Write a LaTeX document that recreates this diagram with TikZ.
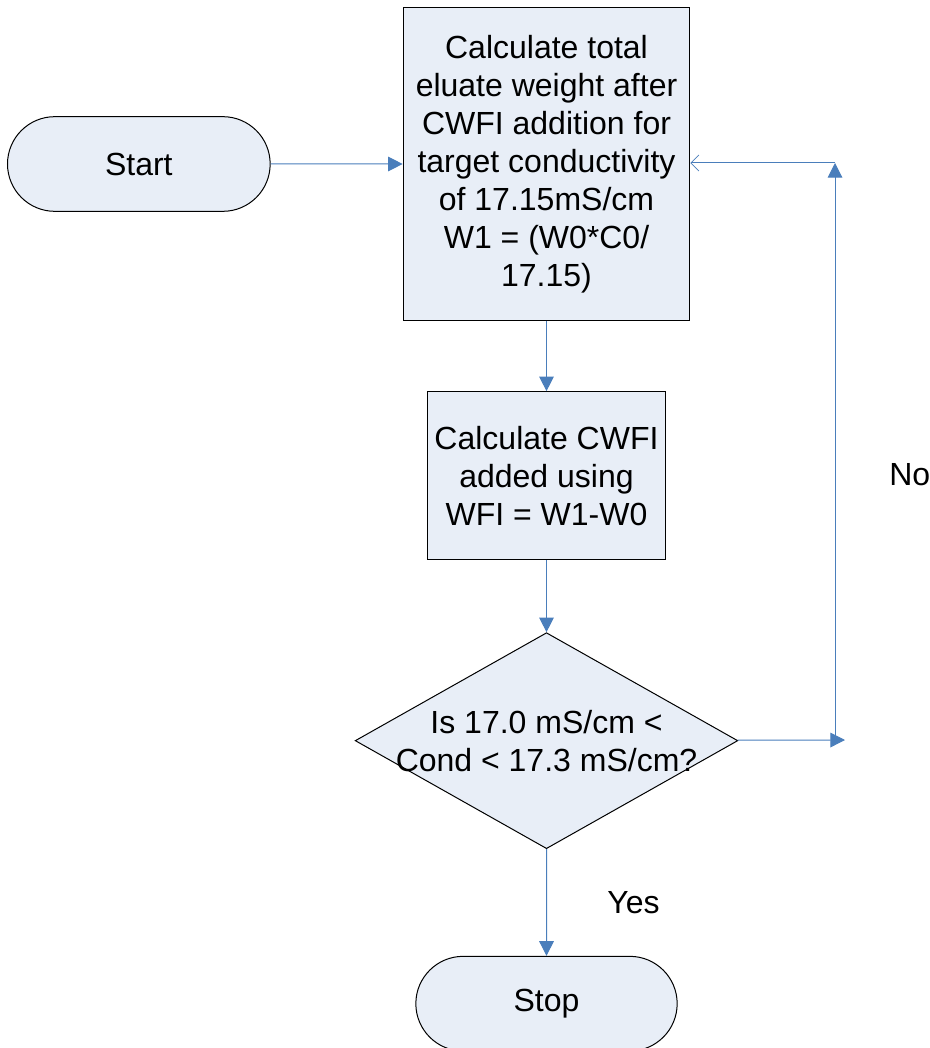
\documentclass[tikz,border=0pt]{standalone}
\usepackage{fontspec}
\setmainfont{Liberation Sans}
\usetikzlibrary{arrows.meta, positioning, shapes.geometric, shapes.misc}
\definecolor{boxfill}{RGB}{232,238,247}
\definecolor{flowline}{RGB}{74,126,187}

\begin{document}
\begin{tikzpicture}[x=0.75pt,y=-0.75pt,
    font=\fontsize{24}{28.5}\selectfont,
    every node/.style={align=center},
    proc/.style={draw,fill=boxfill,line width=0.75pt,inner sep=0pt},
    term/.style={proc,rounded rectangle,minimum width=197pt,minimum height=71pt},
    flow/.style={flowline,line width=0.75pt,-{Triangle[length=11pt,width=11pt]}},
    back/.style={flowline,line width=0.75pt,-{Straight Barb[length=6pt,width=12pt,line width=0.6pt]}}]
        \useasboundingbox (0,0) rectangle (929,1048);
        \node[proc,minimum width=215pt,minimum height=234pt] (calc) at (546.5,164) {Calculate total\\eluate weight after\\CWFI addition for\\target conductivity\\of 17.15mS/cm\\W1 = (W0*C0/\\17.15)};
        \node[term,left=99pt of calc] (start) {Start};
        \node[proc,minimum width=179pt,minimum height=126pt,below=53pt of calc] (cwfi) {Calculate CWFI\\added using\\WFI = W1-W0};
        \node[proc,diamond,minimum width=287pt,minimum height=162pt,below=54pt of cwfi,
              label={center:Is 17.0 mS/cm <\\Cond < 17.3 mS/cm?}] (check) {};
        \node[term,minimum width=196pt,below=80pt of check] (stop) {Stop};

        \coordinate (noend) at (845,740);
        \coordinate (nocorner) at (835,740);
        \coordinate (notop) at (835,163);

        \draw[flow] (start) -- (calc);
        \draw[flow] (calc) -- (cwfi);
        \draw[flow] (cwfi) -- (check);
        \draw[flow] (check) -- node[right=42pt,text=black] {Yes} (stop);
        \draw[flow] (check) -- (noend);
        \draw[flow] (nocorner) -- node[pos=0.46,right=37pt,text=black] {No} (notop);
        \draw[back] (notop) -- (notop -| calc.east);
\end{tikzpicture}
\end{document}
